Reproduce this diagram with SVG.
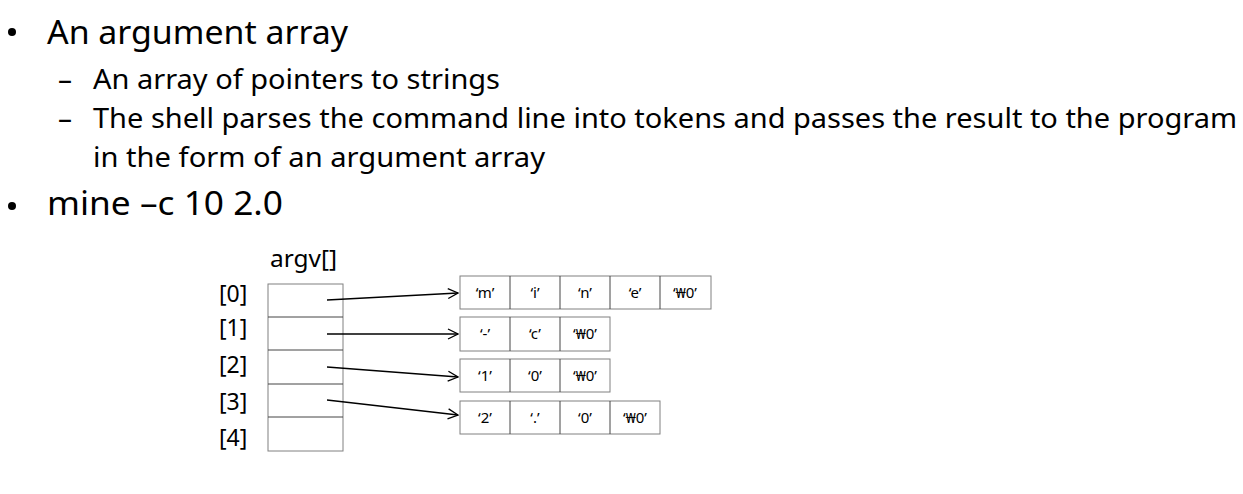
<svg xmlns="http://www.w3.org/2000/svg" width="1243" height="494" viewBox="0 0 1243 494">
<defs>
<style>
.t{font-family:"Noto Sans","Open Sans","Liberation Sans",sans-serif;fill:#000}
.h1{font-size:33px}
.h2{font-size:28px}
.lbl{font-size:23px}
.c{font-size:15px;text-anchor:middle}
.box{fill:#fff;stroke:#808080;stroke-width:1}
.div{stroke:#444;stroke-width:1}
.arr{stroke:#000;stroke-width:1.3;fill:none;marker-end:url(#ah)}
</style>
<marker id="ah" markerWidth="12" markerHeight="12" refX="11" refY="6" orient="auto" markerUnits="userSpaceOnUse">
<path d="M1,1 L11,6 L1,11" fill="none" stroke="#000" stroke-width="1.3"/>
</marker>
</defs>
<rect width="1243" height="494" fill="#fff"/>
<g id="text">
<circle cx="12" cy="32" r="4" fill="#000"/>
<text class="t h1" x="47" y="44" textLength="301" lengthAdjust="spacingAndGlyphs">An argument array</text>
<text class="t h2" x="58" y="89">–</text>
<text class="t h2" x="93" y="89" textLength="407" lengthAdjust="spacingAndGlyphs">An array of pointers to strings</text>
<text class="t h2" x="58" y="128">–</text>
<text class="t h2" x="93" y="128" textLength="1144" lengthAdjust="spacingAndGlyphs">The shell parses the command line into tokens and passes the result to the program</text>
<text class="t h2" x="93" y="167" textLength="452" lengthAdjust="spacingAndGlyphs">in the form of an argument array</text>
<circle cx="12" cy="206" r="4" fill="#000"/>
<text class="t h1" x="47" y="215" textLength="236" lengthAdjust="spacingAndGlyphs">mine –c 10 2.0</text>
</g>
<g id="argv">
<text class="t lbl" x="270" y="267" textLength="67" lengthAdjust="spacingAndGlyphs">argv[]</text>
<rect class="box" x="268" y="284" width="75" height="167"/>
<line class="div" x1="268" y1="317" x2="343" y2="317"/>
<line class="div" x1="268" y1="350" x2="343" y2="350"/>
<line class="div" x1="268" y1="384" x2="343" y2="384"/>
<line class="div" x1="268" y1="417" x2="343" y2="417"/>
<text class="t lbl" x="219" y="302">[0]</text>
<text class="t lbl" x="219" y="336">[1]</text>
<text class="t lbl" x="219" y="373">[2]</text>
<text class="t lbl" x="219" y="410">[3]</text>
<text class="t lbl" x="219" y="446">[4]</text>
</g>
<g id="str0">
<rect class="box" x="460" y="276" width="251" height="33"/>
<line class="div" x1="510" y1="276" x2="510" y2="309"/>
<line class="div" x1="560" y1="276" x2="560" y2="309"/>
<line class="div" x1="610" y1="276" x2="610" y2="309"/>
<line class="div" x1="660" y1="276" x2="660" y2="309"/>
<text class="t c" x="485" y="298">‘m’</text>
<text class="t c" x="535" y="298">‘i’</text>
<text class="t c" x="585" y="298">‘n’</text>
<text class="t c" x="635" y="298">‘e’</text>
<text class="t c" x="685" y="298">‘₩0’</text>
</g>
<g id="str1">
<rect class="box" x="460" y="317" width="150" height="34"/>
<line class="div" x1="510" y1="317" x2="510" y2="351"/>
<line class="div" x1="560" y1="317" x2="560" y2="351"/>
<text class="t c" x="485" y="339">‘-’</text>
<text class="t c" x="535" y="339">‘c’</text>
<text class="t c" x="585" y="339">‘₩0’</text>
</g>
<g id="str2">
<rect class="box" x="460" y="359" width="150" height="33"/>
<line class="div" x1="510" y1="359" x2="510" y2="392"/>
<line class="div" x1="560" y1="359" x2="560" y2="392"/>
<text class="t c" x="485" y="381">‘1’</text>
<text class="t c" x="535" y="381">‘0’</text>
<text class="t c" x="585" y="381">‘₩0’</text>
</g>
<g id="str3">
<rect class="box" x="460" y="401" width="200" height="33"/>
<line class="div" x1="510" y1="401" x2="510" y2="434"/>
<line class="div" x1="560" y1="401" x2="560" y2="434"/>
<line class="div" x1="610" y1="401" x2="610" y2="434"/>
<text class="t c" x="485" y="423">‘2’</text>
<text class="t c" x="535" y="423">‘.’</text>
<text class="t c" x="585" y="423">‘0’</text>
<text class="t c" x="635" y="423">‘₩0’</text>
</g>
<g id="connectors">
<line class="arr" x1="327" y1="300" x2="458" y2="293"/>
<line class="arr" x1="327" y1="334" x2="458" y2="334"/>
<line class="arr" x1="327" y1="367" x2="458" y2="377"/>
<line class="arr" x1="327" y1="400" x2="458" y2="415"/>
</g>
</svg>
